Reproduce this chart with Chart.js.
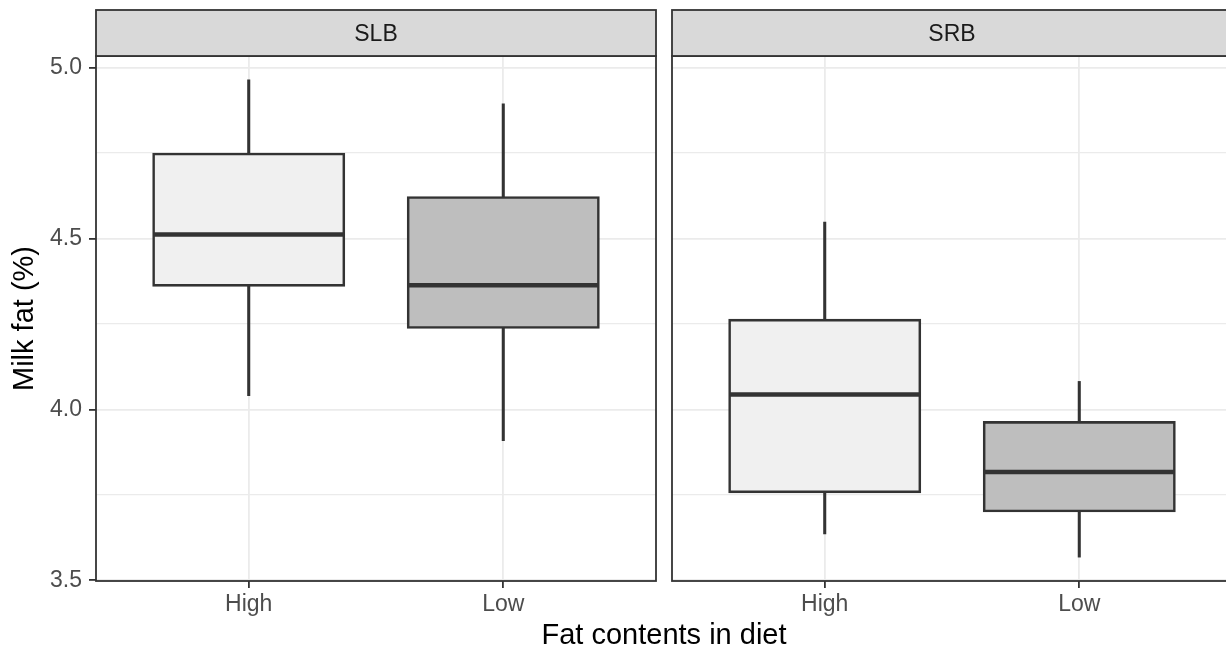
<!DOCTYPE html>
<html>
<head>
<meta charset="utf-8">
<script src="https://cdn.jsdelivr.net/npm/chart.js@4"></script>
<style>
  html, body { margin: 0; padding: 0; background: #ffffff; overflow: hidden; }
  #wrap { position: relative; width: 1226px; height: 648px; overflow: hidden; background: #ffffff; }
  #cA { position: absolute; left: 0; top: 0; }
  #cB { position: absolute; left: 664px; top: 0; }
  #xtitle { position: absolute; left: 364px; width: 600px; top: 620px; text-align: center;
            font-family: "Liberation Sans", Arial, Helvetica, sans-serif; font-size: 29px;
            line-height: 29px; color: #000000; white-space: nowrap; }
</style>
</head>
<body>
<div id="wrap">
  <canvas id="cA" width="664" height="648"></canvas>
  <canvas id="cB" width="568" height="648"></canvas>
  <div id="xtitle">Fat contents in diet</div>
</div>
<script>
// ---- data ----
const facets = ['SLB', 'SRB'];
const categories = ['High', 'Low'];

const slbLower  = [4.040, 3.909];
const slbQ1     = [4.362, 4.239];
const slbMedian = [4.512, 4.363];
const slbQ3     = [4.748, 4.621];
const slbUpper  = [4.964, 4.894];

const srbLower  = [3.636, 3.568];
const srbQ1     = [3.758, 3.702];
const srbMedian = [4.044, 3.817];
const srbQ3     = [4.262, 3.963];
const srbUpper  = [4.548, 4.082];

const yMajorTicks = [3.5, 4.0, 4.5, 5.0];
const yMinorTicks = [3.75, 4.25, 4.75];

// ---- setup ----
Chart.defaults.font.family = '"Liberation Sans", Arial, Helvetica, sans-serif';
const fillColors = ['#F0F0F0', '#BEBEBE'];
const allVals = [...slbLower, ...slbUpper, ...srbLower, ...srbUpper];
const dMin = Math.min(...allVals), dMax = Math.max(...allVals);
const yPad = (dMax - dMin) * 0.05;
const yMin = dMin - yPad, yMax = dMax + yPad;
const isMajor = v => yMajorTicks.some(m => Math.abs(m - v) < 1e-9);

function build(canvasId, label, stats, first) {
  const xs = categories.map((c, i) => i + 1);
  const whiskers = xs.map((x, i) => ({ x: x, y: [stats.lower[i], stats.upper[i]] }));
  const boxes = xs.map((x, i) => ({ x: x, y: [stats.q1[i], stats.q3[i]] }));

  const panelPlugin = {
    id: 'panel' + label,
    afterDatasetsDraw(chart) {
      const meta = chart.getDatasetMeta(1);
      const ys = chart.scales.y;
      const ctx = chart.ctx;
      ctx.save();
      ctx.strokeStyle = '#333333';
      ctx.lineWidth = 4.5;
      ctx.lineCap = 'butt';
      meta.data.forEach((el, i) => {
        const p = el.getProps(['x', 'width'], true);
        const y = ys.getPixelForValue(stats.median[i]);
        ctx.beginPath();
        ctx.moveTo(p.x - p.width / 2, y);
        ctx.lineTo(p.x + p.width / 2, y);
        ctx.stroke();
      });
      ctx.restore();
    },
    afterDraw(chart) {
      const { left, right, top, bottom } = chart.chartArea;
      const ctx = chart.ctx;
      ctx.save();
      ctx.strokeStyle = '#333333';
      ctx.lineWidth = 1.8;
      ctx.strokeRect(left, top, right - left, bottom - top);
      const sTop = 10;
      ctx.fillStyle = '#D9D9D9';
      ctx.fillRect(left, sTop, right - left, top - sTop);
      ctx.strokeRect(left, sTop, right - left, top - sTop);
      ctx.fillStyle = '#1A1A1A';
      ctx.font = '23px "Liberation Sans", Arial, Helvetica, sans-serif';
      ctx.textAlign = 'center';
      ctx.textBaseline = 'alphabetic';
      ctx.fillText(label, (left + right) / 2, (sTop + top) / 2 + 8.2);
      ctx.restore();
    }
  };

  return new Chart(document.getElementById(canvasId), {
    type: 'bar',
    data: {
      datasets: [
        { label: 'whisker', data: whiskers, backgroundColor: '#333333', borderWidth: 0,
          barThickness: 2.4, grouped: false, order: 1 },
        { label: 'box', data: boxes, backgroundColor: fillColors, borderColor: '#333333',
          borderWidth: 2.6, borderSkipped: false, barPercentage: 0.75, categoryPercentage: 1,
          inflateAmount: 1, grouped: false, order: 0 }
      ]
    },
    options: {
      responsive: false,
      animation: false,
      events: [],
      layout: { padding: { top: 56, bottom: 0, left: first ? 0 : 8, right: first ? 8 : 0 } },
      plugins: { legend: { display: false }, tooltip: { enabled: false } },
      scales: {
        x: {
          type: 'linear', min: 0.4, max: 2.6, offset: false, stacked: true,
          afterBuildTicks(s) { s.ticks = xs.map(v => ({ value: v })); },
          afterFit(s) { s.height = 67; },
          ticks: { callback: v => categories[Math.round(v) - 1] || '', color: '#4D4D4D',
                   font: { size: 23 }, padding: 3, autoSkip: false, maxRotation: 0, minRotation: 0 },
          grid: { color: '#EBEBEB', lineWidth: 1.8, drawTicks: true, tickLength: 7,
                  tickColor: '#333333', tickWidth: 1.8, offset: false },
          border: { display: false }
        },
        y: {
          type: 'linear', min: yMin, max: yMax, stacked: false,
          afterBuildTicks(s) { s.ticks = [...yMajorTicks, ...yMinorTicks].sort((a, b) => a - b).map(v => ({ value: v })); },
          afterFit(s) { s.width = first ? 96 : 0; },
          ticks: { display: first, callback: v => isMajor(v) ? v.toFixed(1) : '', color: '#4D4D4D',
                   font: { size: 23 }, padding: 7, autoSkip: false },
          grid: { color: '#EBEBEB',
                  lineWidth: c => (c.tick && isMajor(c.tick.value)) ? 1.8 : 1.3,
                  drawTicks: first, tickLength: 7,
                  tickColor: c => (c.tick && isMajor(c.tick.value)) ? '#333333' : 'rgba(0,0,0,0)',
                  tickWidth: 1.8 },
          border: { display: false },
          title: { display: first, text: 'Milk fat (%)', color: '#000000', font: { size: 29 },
                   padding: { top: 8, bottom: 0 } }
        }
      }
    },
    plugins: [panelPlugin]
  });
}

build('cA', facets[0], { lower: slbLower, q1: slbQ1, median: slbMedian, q3: slbQ3, upper: slbUpper }, true);
build('cB', facets[1], { lower: srbLower, q1: srbQ1, median: srbMedian, q3: srbQ3, upper: srbUpper }, false);
</script>
</body>
</html>
